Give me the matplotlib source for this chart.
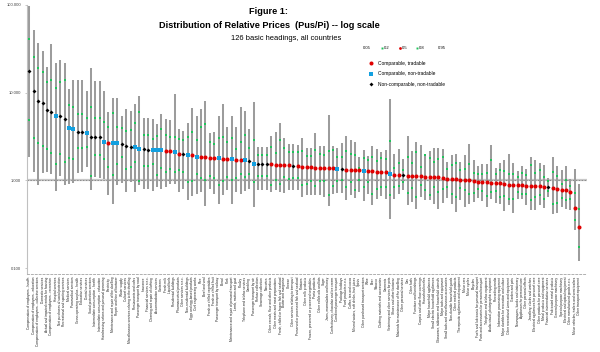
import matplotlib
matplotlib.use("Agg")
import matplotlib.pyplot as plt
from matplotlib.lines import Line2D

plt.rcParams['font.family'] = ['Liberation Sans', 'DejaVu Sans']

# ---- data: quantiles of relative prices (Pus/Pi) per basic heading ----
headings = [
    "Compensation of employees - health", "Compensation of employees - education",
    "Compensation of employees - collective services", "Domestic services",
    "Actual and imputed rentals for housing", "Compensation of employees - recreation",
    "Hospital services", "Net purchases of social protection", "Recreational and sporting services",
    "Medical services", "Paramedical services", "Gross operating surplus - health",
    "Education services", "Dental services", "Social protection services",
    "Intermediate consumption - health", "Intermediate consumption - education",
    "Hairdressing salons and personal grooming", "Electricity",
    "Maintenance and repair of the dwelling", "Repair and hire of footwear", "Water supply",
    "Cultural services", "Miscellaneous services relating to the dwelling",
    "Restaurants and cafes", "Passenger transport by road", "Insurance",
    "Financial services n.e.c.", "Cleaning and repair of clothing", "Accommodation services",
    "Canteens", "Fresh milk", "Liquid fuels", "Residential buildings", "Pharmaceutical products",
    "Other services n.e.c.", "Non-residential buildings", "Eggs and egg-based products",
    "Civil engineering works", "Rice", "Beef and veal", "Fresh or chilled vegetables",
    "Fresh or chilled fruit", "Passenger transport by railway", "Bread", "Pork",
    "Maintenance and repair of personal transport", "Lamb, mutton and goat", "Poultry",
    "Telephone and telefax services", "Gambling", "Passenger transport by air",
    "Refuse collection", "Sewerage collection", "Narcotics",
    "Other cereals, flour and other products", "Other meats and meat preparations",
    "Fresh, chilled or frozen fish and seafood", "Butter and margarine", "Cheese",
    "Other services relating to transport", "Preserved or processed fish and seafood",
    "Potatoes", "Other milk products", "Frozen, preserved or processed vegetables",
    "Pasta products", "Other edible oils and fats", "Sugar", "Jams, marmalades and honey",
    "Confectionery, chocolate and ice cream", "Combined passenger transport",
    "Package holidays", "Food products n.e.c.", "Coffee, tea and cocoa",
    "Mineral waters, soft drinks, fruit juices", "Spirits", "Other purchased transport services",
    "Wine", "Beer", "Tobacco", "Clothing materials and accessories", "Garments",
    "Veterinary and other services for pets", "Shoes and other footwear",
    "Materials for maintenance of the dwelling", "Other personal services", "Gas",
    "Other fuels", "Furniture and furnishings", "Carpets and other floor coverings",
    "Household textiles", "Major household appliances", "Small electric household appliances",
    "Glassware, tableware and household utensils", "Major tools and equipment",
    "Small tools and miscellaneous accessories", "Non-durable household goods",
    "Other medical products", "Therapeutic appliances and equipment", "Motor cars",
    "Motor cycles", "Bicycles", "Fuels and lubricants for personal transport",
    "Parts and accessories for personal transport", "Telephone and telefax equipment",
    "Audio-visual, photographic equipment", "Recording media",
    "Information processing equipment", "Major durables for recreation and culture",
    "Other recreational items and equipment", "Garden and pets",
    "Newspapers, books and stationery", "Appliances for personal care",
    "Other personal effects", "Jewellery, clocks and watches",
    "Electrical appliances for personal care", "Other products for personal care",
    "Metal products and equipment", "Financial intermediation services",
    "Fabricated metal products", "General purpose machinery", "Special purpose machinery",
    "Electrical and optical equipment", "Other manufactured goods n.e.c.",
    "Motor vehicles, trailers and semi-trailers", "Other transport equipment",
]

# T = comparable tradable, N = comparable non-tradable, X = non-comparable non-tradable
kind = list("XXXXXXNXXN" "NXXNXXXNTN" "NXXXNNXXNN" "NTTNTXNTNT" "TTTNTTNTTN"
            "XNXXXTTTTT" "XTTTTTTTTT" "NXTTTTNTTT" "TTNTTXTTTT" "TTTTTTTTTT"
            "TTTTTTTTTT" "TTTTTTTTXT" "TTTTTT")

p95 = [97.5, 51.6, 36.7, 29.5, 19.4, 35.7, 21.7, 23.7, 21.7, 11.0,
       14.1, 14.1, 14.1, 10.5, 18.9, 13.7, 13.7, 10.5, 6.08, 8.61,
       8.61, 5.48, 6.53, 6.25, 7.44, 9.25, 5.10, 5.10, 5.02, 4.41,
       5.73, 5.02, 4.93, 9.66, 3.87, 3.70, 4.52, 6.64, 5.48, 6.53,
       7.96, 3.48, 3.60, 5.48, 7.44, 4.03, 5.48, 4.03, 6.81, 6.13,
       3.87, 7.76, 2.39, 2.39, 2.39, 3.24, 3.54, 4.52, 3.05, 2.61,
       2.61, 2.55, 3.05, 2.35, 2.35, 3.48, 2.45, 2.45, 5.62, 2.45,
       2.35, 2.68, 3.19, 2.92, 2.72, 1.87, 2.23, 1.92, 2.48, 2.29,
       2.10, 2.23, 8.48, 2.01, 2.29, 1.76, 3.19, 2.19, 2.77, 2.50,
       2.01, 2.19, 2.33, 2.35, 2.30, 1.61, 1.97, 2.01, 1.64, 1.96,
       2.61, 1.72, 1.44, 1.52, 1.52, 2.50, 1.38, 1.57, 1.69, 2.01,
       1.57, 1.27, 1.44, 1.36, 1.87, 1.69, 1.57, 1.51, 1.07, 1.87,
       1.45, 1.30, 1.45, 1.045, 1.36, 0.90]

p80 = [40.7, 25.2, 18.9, 17.0, 13.1, 14.1, 11.2, 13.2, 13.8, 7.18,
       6.93, 5.73, 5.73, 5.16, 6.93, 5.10, 5.10, 4.60, 4.11, 5.82,
       4.11, 3.97, 3.70, 3.77, 4.48, 6.08, 3.33, 3.33, 3.00, 3.22,
       3.87, 3.27, 3.16, 3.16, 2.98, 2.90, 3.16, 3.54, 2.92, 4.11,
       4.41, 2.72, 2.61, 3.03, 3.16, 2.77, 3.03, 2.29, 2.77, 3.33,
       2.35, 2.92, 1.96, 1.96, 1.96, 2.39, 2.04, 2.85, 2.35, 2.10,
       2.10, 2.08, 2.15, 1.92, 1.92, 2.23, 2.01, 1.96, 2.19, 2.23,
       1.87, 1.84, 2.14, 2.01, 1.97, 1.39, 1.79, 1.69, 1.87, 1.66,
       1.79, 1.76, 2.80, 1.38, 1.59, 1.32, 1.87, 1.57, 2.10, 1.42,
       1.96, 1.81, 1.61, 1.76, 1.85, 1.34, 1.51, 1.59, 1.32, 1.33,
       1.55, 1.22, 1.17, 1.19, 1.22, 1.69, 1.17, 1.30, 1.28, 1.17,
       1.17, 1.09, 1.21, 1.16, 1.48, 1.21, 1.32, 1.09, 0.974, 1.24,
       1.11, 0.917, 1.0, 0.855, 0.725, 0.477]

p50 = [17.8, 10.35, 8.11, 7.56, 6.41, 6.08, 5.48, 5.38, 5.02, 3.97,
       3.87, 3.57, 3.54, 3.45, 3.16, 3.14, 3.13, 2.72, 2.70, 2.65,
       2.64, 2.57, 2.48, 2.43, 2.39, 2.29, 2.25, 2.24, 2.23, 2.21,
       2.20, 2.19, 2.15, 2.10, 2.01, 1.99, 1.97, 1.96, 1.87, 1.84,
       1.83, 1.81, 1.79, 1.79, 1.76, 1.75, 1.73, 1.72, 1.70, 1.70,
       1.66, 1.54, 1.53, 1.53, 1.53, 1.52, 1.49, 1.49, 1.48, 1.48,
       1.47, 1.46, 1.42, 1.41, 1.41, 1.40, 1.39, 1.39, 1.39, 1.38,
       1.36, 1.35, 1.31, 1.31, 1.30, 1.30, 1.29, 1.28, 1.27, 1.25,
       1.24, 1.23, 1.19, 1.16, 1.15, 1.15, 1.12, 1.11, 1.11, 1.11,
       1.10, 1.10, 1.09, 1.08, 1.07, 1.045, 1.035, 1.026, 1.022, 1.018,
       1.009, 0.982, 0.96, 0.957, 0.949, 0.94, 0.932, 0.924, 0.917, 0.893,
       0.885, 0.884, 0.877, 0.87, 0.862, 0.856, 0.855, 0.848, 0.84, 0.817,
       0.805, 0.784, 0.77, 0.736, 0.484, 0.295]

p20 = [4.90, 3.05, 2.65, 2.45, 2.27, 2.04, 1.55, 2.01, 1.61, 1.79,
       1.75, 2.31, 2.35, 2.39, 1.12, 1.96, 1.96, 1.77, 1.42, 1.14,
       1.52, 1.84, 1.36, 1.42, 1.61, 0.974, 1.45, 1.45, 1.55, 1.14,
       1.38, 1.24, 1.36, 1.24, 1.32, 1.24, 0.957, 0.974, 1.17, 1.07,
       1.02, 1.11, 1.06, 0.877, 0.98, 1.09, 1.0, 1.06, 1.19, 1.09,
       1.17, 0.957, 1.12, 1.12, 1.12, 0.877, 1.0, 0.90, 1.09, 1.045,
       1.07, 1.07, 0.893, 0.90, 0.974, 0.86, 0.974, 0.974, 0.675, 0.86,
       0.974, 1.0, 0.84, 0.957, 0.77, 1.0, 0.84, 0.957, 0.706, 0.805,
       0.83, 0.84, 0.675, 0.84, 0.86, 0.957, 0.717, 0.826, 0.646, 0.877,
       0.77, 0.687, 0.84, 0.736, 0.80, 0.84, 0.706, 0.646, 0.817, 0.784,
       0.706, 0.717, 0.80, 0.75, 0.658, 0.744, 0.75, 0.646, 0.658, 0.62,
       0.62, 0.736, 0.693, 0.706, 0.604, 0.646, 0.675, 0.613, 0.756, 0.543,
       0.558, 0.63, 0.593, 0.62, 0.351, 0.174]

p05 = [1.87, 1.24, 0.877, 1.20, 1.24, 1.19, 0.75, 1.12, 0.893, 0.917,
       0.932, 1.21, 1.24, 1.42, 0.77, 1.09, 1.07, 1.045, 0.687, 0.534,
       0.877, 0.932, 0.736, 0.957, 0.736, 0.877, 0.805, 0.805, 0.756, 0.84,
       0.805, 0.84, 0.90, 0.917, 0.736, 0.805, 0.604, 0.658, 0.706, 0.736,
       0.507, 0.805, 0.693, 0.543, 0.675, 0.77, 0.534, 0.736, 0.706, 0.75,
       0.79, 0.497, 0.77, 0.77, 0.77, 0.736, 0.77, 0.736, 0.725, 0.77,
       0.77, 0.78, 0.646, 0.675, 0.675, 0.675, 0.675, 0.646, 0.51, 0.706,
       0.717, 0.717, 0.604, 0.675, 0.636, 0.736, 0.577, 0.706, 0.52, 0.62,
       0.663, 0.62, 0.367, 0.62, 0.706, 0.77, 0.52, 0.567, 0.477, 0.646,
       0.593, 0.593, 0.543, 0.477, 0.55, 0.63, 0.534, 0.436, 0.593, 0.497,
       0.543, 0.567, 0.63, 0.582, 0.497, 0.62, 0.552, 0.543, 0.444, 0.52,
       0.429, 0.62, 0.62, 0.52, 0.456, 0.456, 0.52, 0.489, 0.646, 0.418,
       0.429, 0.497, 0.477, 0.456, 0.27, 0.121]

ytick_vals = [0.1, 1, 10, 100]
ytick_labels = ["0.100", "1.000", "10.000", "100.000"]
quantile_labels = ["0.05", "0.2", "0.5", "0.8", "0.95"]
kind_labels = {"T": "Comparable, tradable", "N": "Comparable, non-tradable",
               "X": "Non-comparable, non-tradable"}

# ---- styles ----
W, H = 600, 352
GREEN = '#1fc35a'
kind_style = {"T": dict(marker='o', color='#e00000', ms=2.9),
              "N": dict(marker='s', color='#13a0e0', ms=3.0),
              "X": dict(marker='D', color='black', ms=2.0)}


def fx(px):
    return px / W


def fy(py):
    return 1 - py / H


fig = plt.figure(figsize=(W / 100, H / 100), dpi=100)
ax = fig.add_axes([fx(27.1), fy(274), (587 - 27.1) / W, (274 - 5) / H])

x = list(range(len(p50)))
ax.set_yscale('log')
ax.set_ylim(0.0855, 100)
ax.set_xlim(-0.5, len(p50) + 0.75)

ax.axhline(1, color='#c8c8c8', lw=1.6, zorder=1)
ax.axhline(1, color='#8c8c8c', lw=0.7, ls=(0, (1.5, 1.5)), zorder=1)

ax.vlines(x, p05, p95, color='#9c9c9c', lw=1.45, zorder=2)
ax.plot(x, p20, ls='none', marker='s', color=GREEN, ms=1.6, mew=0, zorder=3)
ax.plot(x, p80, ls='none', marker='s', color=GREEN, ms=1.6, mew=0, zorder=3)

for k in ["T", "N", "X"]:
    xs = [i for i in x if kind[i] == k]
    ys = [p50[i] for i in xs]
    ax.plot(xs, ys, ls='none', mew=0, zorder=4, **kind_style[k])

# axes cosmetics
for s in ['top', 'right']:
    ax.spines[s].set_visible(False)
ax.spines['left'].set_color('#c0c0c0')
ax.spines['left'].set_linewidth(0.8)
ax.spines['bottom'].set_color('#b0b0b0')
ax.spines['bottom'].set_linewidth(0.7)
ax.spines['bottom'].set_linestyle((0, (2, 2)))

ax.set_yticks(ytick_vals)
ax.set_yticklabels(ytick_labels)
ax.yaxis.set_minor_locator(matplotlib.ticker.NullLocator())
ax.tick_params(axis='y', labelsize=3, colors='#404040', length=1.5, width=0.5, pad=3)
ax.tick_params(axis='y', color='#b0b0b0')

ax.set_xticks(x)
ax.set_xticklabels(headings, rotation=90, fontsize=2.35, color='#202020')
ax.tick_params(axis='x', length=0, pad=2)

# titles
fig.text(fx(268.5), fy(12), "Figure 1:", ha='center', va='center',
         fontsize=6.6, fontweight='bold')
fig.text(fx(269.5), fy(25), "Distribution of Relative Prices  (Pus/Pi) -- log scale",
         ha='center', va='center', fontsize=6.6, fontweight='bold')
fig.text(fx(286), fy(38.5), "126 basic headings, all countries",
         ha='center', va='center', fontsize=5.4)

# quantile legend row
q_x = [363, 384, 402, 419, 438]
q_marks = [None, GREEN, '#e00000', GREEN, None]
for qx, lab, mc in zip(q_x, quantile_labels, q_marks):
    fig.text(fx(qx), fy(48.3), lab, ha='left', va='center', fontsize=3.0)
    if mc is not None:
        fig.add_artist(Line2D([fx(qx - 2.5)], [fy(48.3)], transform=fig.transFigure,
                              marker='s' if mc == GREEN else 'o', color=mc,
                              ms=1.4 if mc == GREEN else 2.0, mew=0, ls='none'))

# median-type legend
for py, k in zip([63.3, 74, 84.3], ["T", "N", "X"]):
    fig.add_artist(Line2D([fx(371)], [fy(py)], transform=fig.transFigure,
                          ls='none', mew=0, **kind_style[k]))
    fig.text(fx(378), fy(py), kind_labels[k], ha='left', va='center', fontsize=3.5)

fig.savefig("out.png", dpi=100)
